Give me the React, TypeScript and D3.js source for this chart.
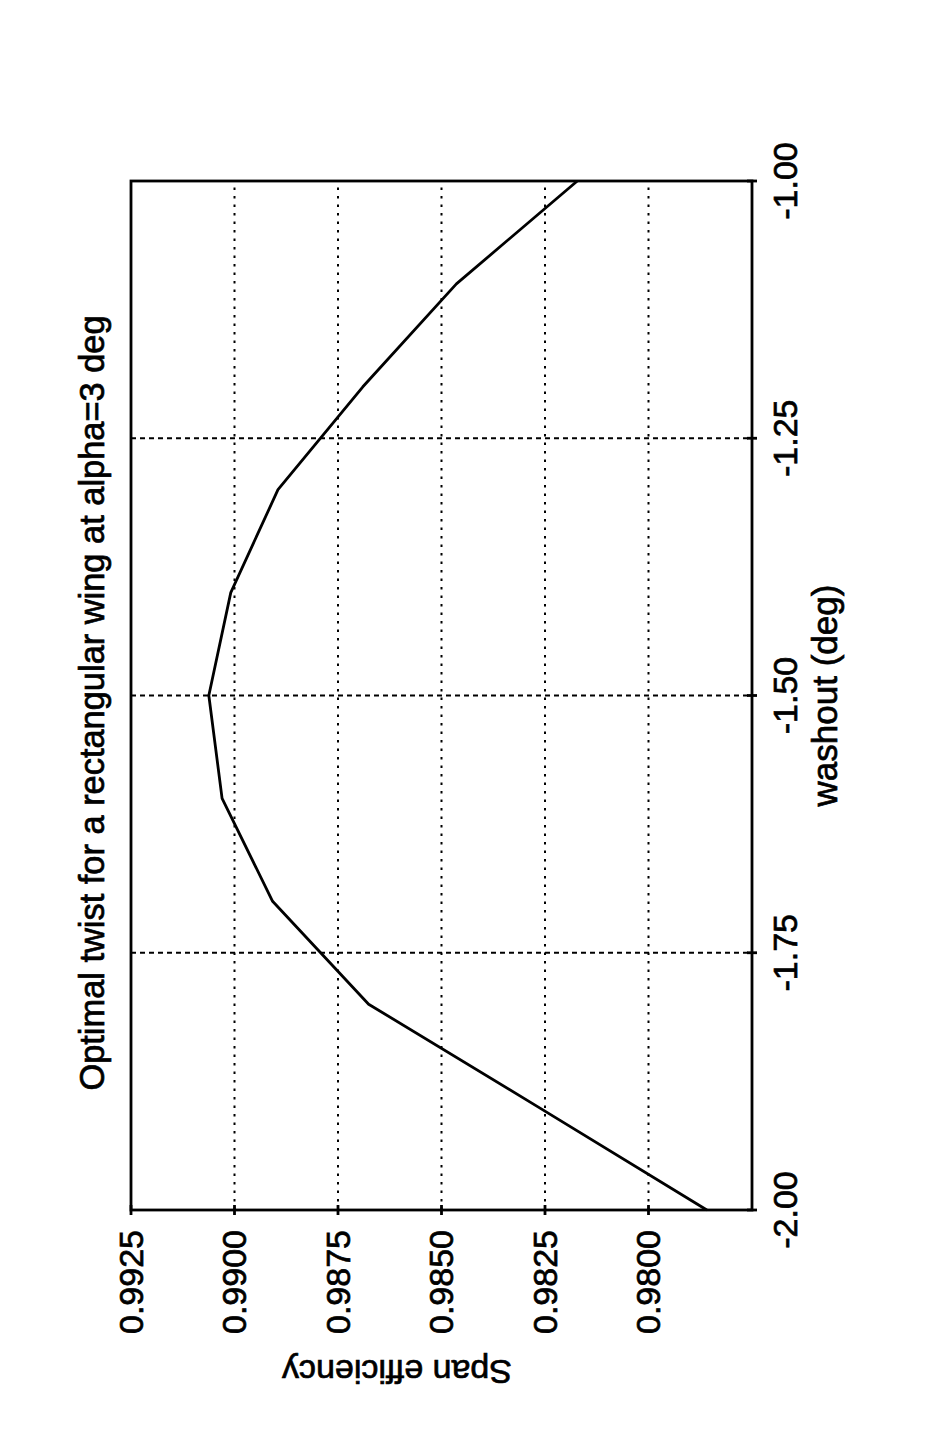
import React from 'react';
import * as d3 from 'd3';

const washout = [-2.0, -1.9, -1.8, -1.7, -1.6, -1.5, -1.4, -1.3, -1.2, -1.1, -1.0];
const spanEff = [0.97859, 0.98266, 0.98676, 0.98908, 0.9903, 0.99062, 0.99009, 0.98895, 0.9869, 0.98464, 0.98172];
const xTicks = [-2, -1.75, -1.5, -1.25, -1];
const xTickLabels = ['-2.00', '-1.75', '-1.50', '-1.25', '-1.00'];
const yTicks = [0.98, 0.9825, 0.985, 0.9875, 0.99, 0.9925];
const yTickLabels = ['0.9800', '0.9825', '0.9850', '0.9875', '0.9900', '0.9925'];
const title = 'Optimal twist for a rectangular wing at alpha=3 deg';
const xLabel = 'washout (deg)';
const yLabel = 'Span efficiency';

const FONT = '"Liberation Sans", Arial, Helvetica, sans-serif';

export default function App() {
  const W = 947;
  const H = 1445;
  const x = d3.scaleLinear().domain([-2, -1]).range([235, 1264]);
  const y = d3.scaleLinear().domain([0.9775, 0.9925]).range([752, 131]);
  const [u0, u1] = x.range();
  const [vb, vt] = y.range();
  const line = d3
    .line<number>()
    .x((_, i) => x(washout[i]))
    .y((d) => y(d));

  const textStyle = { stroke: '#000', strokeWidth: 0.7, fill: '#000' };

  return (
    <svg
      width={W}
      height={H}
      style={{ position: 'absolute', left: 0, top: 0, background: '#fff' }}
      fontFamily={FONT}
    >
      <rect width={W} height={H} fill="#fff" />
      <g transform={`translate(0,${H}) rotate(-90)`}>
        {/* grid lines */}
        {xTicks
          .filter((t) => t > -2 && t < -1)
          .map((t) => (
            <line
              key={'gx' + t}
              x1={x(t)}
              x2={x(t)}
              y1={vt}
              y2={vb}
              stroke="#000"
              strokeWidth={2}
              strokeDasharray="5,4"
            />
          ))}
        {yTicks
          .filter((t) => t < 0.9925)
          .map((t) => (
            <line
              key={'gy' + t}
              x1={u0}
              x2={u1}
              y1={y(t)}
              y2={y(t)}
              stroke="#000"
              strokeWidth={2}
              strokeDasharray="2.5,6"
            />
          ))}
        {/* frame */}
        <rect
          x={u0}
          y={vt}
          width={u1 - u0}
          height={vb - vt}
          fill="none"
          stroke="#000"
          strokeWidth={2.8}
        />
        {/* ticks */}
        {xTicks.map((t) => (
          <line key={'tx' + t} x1={x(t)} x2={x(t)} y1={vb - 5} y2={vb + 5} stroke="#000" strokeWidth={2.8} />
        ))}
        {yTicks.map((t) => (
          <line key={'ty' + t} x1={u0 - 5} x2={u0 + 5} y1={y(t)} y2={y(t)} stroke="#000" strokeWidth={2.8} />
        ))}
        {/* data line */}
        <path d={line(spanEff) || ''} fill="none" stroke="#000" strokeWidth={2.8} strokeLinejoin="round" />
        {/* tick labels */}
        {xTicks.map((t, i) => (
          <text key={'lx' + t} x={x(t)} y={797} textAnchor="middle" fontSize={34} style={textStyle}>
            {xTickLabels[i]}
          </text>
        ))}
        {yTicks.map((t, i) => (
          <text key={'ly' + t} x={u0 - 20} y={y(t)} dy="0.35em" textAnchor="end" fontSize={34} style={textStyle}>
            {yTickLabels[i]}
          </text>
        ))}
        {/* labels */}
        <text x={(u0 + u1) / 2} y={837} textAnchor="middle" fontSize={35} style={textStyle}>
          {xLabel}
        </text>
        <text transform={`translate(85,397) rotate(-90)`} textAnchor="middle" fontSize={34} style={textStyle}>
          {yLabel}
        </text>
        <text x={742} y={104} textAnchor="middle" fontSize={34.4} style={textStyle}>
          {title}
        </text>
      </g>
    </svg>
  );
}
